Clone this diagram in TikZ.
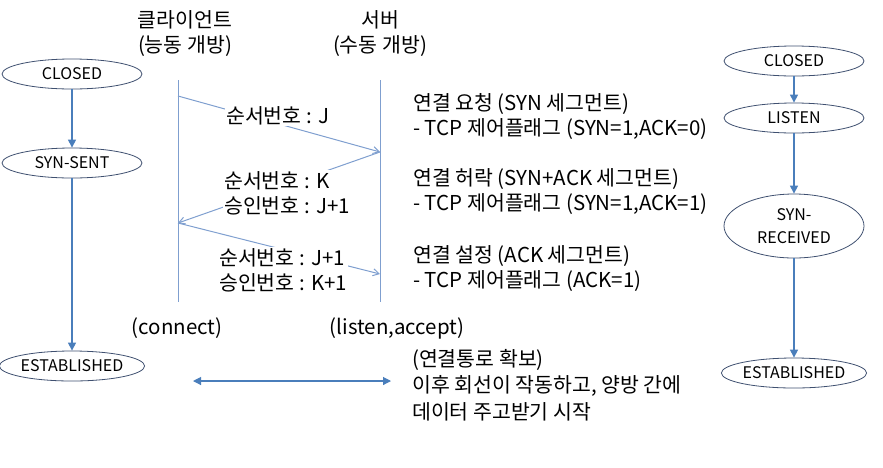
\documentclass[tikz,border=0pt]{standalone}
\usepackage{fontspec}
\setmainfont{Noto Sans CJK KR}
\usetikzlibrary{shapes.geometric,arrows.meta}
\definecolor{arrowblue}{HTML}{4A7EBB}
\definecolor{lineblue}{HTML}{7F9FCF}
\definecolor{ellborder}{HTML}{3F5070}
\begin{document}
\begin{tikzpicture}[x=1pt,y=-1pt,
  state/.style={ellipse,draw=ellborder,line width=0.8pt,fill=white,minimum width=140pt,minimum height=30pt,inner sep=0pt,font=\fontsize{16}{23}\selectfont,align=center},
  flow/.style={draw=arrowblue,line width=1.1pt,-{Triangle[length=8pt,width=8pt]}},
  msg/.style={draw=lineblue,line width=1pt,-{Straight Barb[length=6pt,width=7pt]}},
  txt/.style={font=\fontsize{20.5}{25}\selectfont,align=left,inner sep=0pt},
  ctxt/.style={font=\fontsize{20.5}{25}\selectfont,align=center,inner sep=0pt},
  lbl/.style={txt,fill=white,inner sep=1pt,anchor=west}]
\useasboundingbox (0,0) rectangle (883,467);
% left states
\node[state] (c1) at (72,74) {CLOSED};
\node[state] (c2) at (72,163) {SYN-SENT};
\node[state] (c3) at (72,366) {ESTABLISHED};
\draw[flow] (c1) -- (c2);
\draw[flow] (c2) -- (c3);
% right states
\node[state] (s1) at (794,61) {CLOSED};
\node[state] (s2) at (794,118) {LISTEN};
\node[state,minimum height=64pt] (s3) at (794,226) {SYN-\\RECEIVED};
\node[state] (s4) at (794,373) {ESTABLISHED};
\draw[flow] (s1) -- (s2);
\draw[flow] (s2) -- (s3);
\draw[flow] (s3) -- (s4);
% headers
\node[ctxt] (hc) at (185,34) {클라이언트\\(능동 개방)};
\node[ctxt] (hs) at (380,34) {서버\\(수동 개방)};
% lifelines
\coordinate (ct) at (178,80);
\coordinate (cb) at (178,302);
\coordinate (st) at (380,80);
\coordinate (sb) at (380,302);
\draw[lineblue,line width=1pt] (ct) -- (cb);
\draw[lineblue,line width=1pt] (st) -- (sb);
% messages
\coordinate (m1a) at (178,96);
\coordinate (m1b) at (380,152);
\coordinate (m2b) at (178,223);
\coordinate (m3b) at (380,274);
\draw[msg] (m1a) -- (m1b);
\draw[msg] (m1b) -- (m2b);
\draw[msg] (m2b) -- (m3b);
\node[lbl] (l1) at (225,116) {순서번호 : J};
\node[lbl] (l2) at (223,193) {순서번호 : K\\승인번호 : J+1};
\node[lbl] (l3) at (218,270) {순서번호 : J+1\\승인번호 : K+1};
% right descriptions
\node[txt,anchor=west] (d1) at (413,116) {연결 요청 (SYN 세그먼트)\\- TCP 제어플래그 (SYN=1,ACK=0)};
\node[txt,anchor=west] (d2) at (413,192) {연결 허락 (SYN+ACK 세그먼트)\\- TCP 제어플래그 (SYN=1,ACK=1)};
\node[txt,anchor=west] (d3) at (413,269) {연결 설정 (ACK 세그먼트)\\- TCP 제어플래그 (ACK=1)};
% bottom labels
\node[ctxt] (conn) at (177,328) {(connect)};
\node[ctxt] (lis) at (397,328) {(listen,accept)};
\coordinate (da) at (193,381);
\coordinate (db) at (391,381);
\draw[draw=arrowblue,line width=1.1pt,{Triangle[length=8pt,width=8pt]}-{Triangle[length=8pt,width=8pt]}] (da) -- (db);
\node[txt,anchor=west,font=\fontsize{20.5}{26.5}\selectfont] (est) at (412,385) {(연결통로 확보)\\이후 회선이 작동하고, 양방 간에\\데이터 주고받기 시작};
\end{tikzpicture}
\end{document}
